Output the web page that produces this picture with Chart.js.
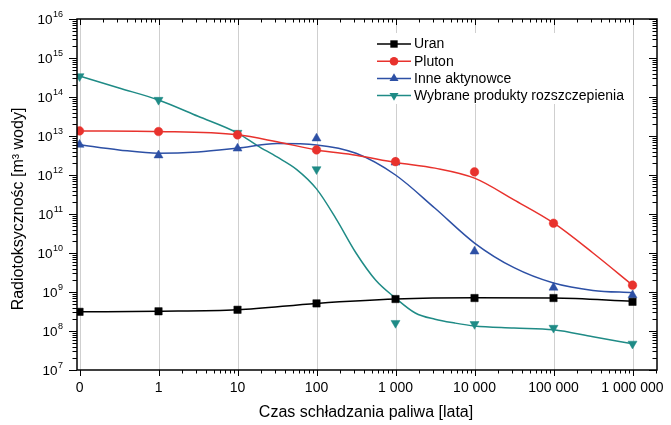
<!DOCTYPE html>
<html><head><meta charset="utf-8">
<script src="https://cdn.jsdelivr.net/npm/chart.js@4"></script>
<style>html,body{margin:0;padding:0;background:#fff}#wrap{width:671px;height:425px;position:relative}</style>
</head><body><div id="wrap"><canvas id="c" width="671" height="425"></canvas></div>
<script>
// ---- data ----
const categories = ['0', '1', '10', '100', '1 000', '10 000', '100 000', '1 000 000'];
const yExponents = [7, 8, 9, 10, 11, 12, 13, 14, 15, 16];
const seriesNames = ['Uran', 'Pluton', 'Inne aktynowce', 'Wybrane produkty rozszczepienia'];
const xTitle = 'Czas schładzania paliwa [lata]';
const yTitle = 'Radiotoksycznośc [m³ wody]';

// measured points (markers), one per category
const uranPts   = [3.1e8, 3.2e8, 3.5e8, 5.1e8, 6.6e8, 7.0e8, 7.0e8, 5.6e8];
const plutonPts = [1.35e13, 1.3e13, 1.07e13, 4.4e12, 2.2e12, 1.2e12, 5.8e10, 1.5e9];
const inneAktPts = [6.0e12, 3.2e12, 4.8e12, 8.7e12, 2.1e12, 1.1e10, 1.3e9, 8.3e8];
const produktyPts = [3.4e14, 8.4e13, 1.2e13, 1.4e12, 1.6e8, 1.5e8, 1.2e8, 4.7e7];

// fitted curves (x = category index)
const uranCurveX = [0, 1, 2, 3, 4, 5, 6, 7];
const uranCurveY = [3.1e8, 3.2e8, 3.5e8, 5.1e8, 6.6e8, 7.1e8, 7.0e8, 5.8e8];
const plutonCurveX = [0, 1, 2, 2.5, 3, 3.5, 4, 4.5, 5, 5.5, 6, 6.5, 7];
const plutonCurveY = [1.35e13, 1.3e13, 1.07e13, 7.1e12, 4.4e12, 3.2e12, 2.1e12, 1.5e12, 8.3e11, 2.3e11, 5.9e10, 1.0e10, 1.5e9];
const inneAktCurveX = [0, 0.5, 1, 1.5, 2, 2.5, 3, 3.5, 4, 4.5, 5, 5.5, 6, 6.5, 7];
const inneAktCurveY = [6.0e12, 4.4e12, 3.6e12, 3.9e12, 4.9e12, 6.4e12, 5.9e12, 3.6e12, 1.0e12, 1.4e11, 1.8e10, 4.2e9, 1.7e9, 1.1e9, 9.6e8];
const produktyCurveX = [0, 0.5, 1, 1.5, 2, 2.25, 2.5, 2.75, 3, 3.25, 3.5, 3.75, 4, 4.25, 4.5, 4.75, 5, 5.5, 6, 6.5, 7];
const produktyCurveY = [3.45e14, 1.7e14, 8.4e13, 3.2e13, 1.19e13, 5.7e12, 2.9e12, 1.38e12, 4.4e11, 7.4e10, 1.0e10, 2.0e9, 7.0e8, 2.9e8, 2.0e8, 1.6e8, 1.35e8, 1.2e8, 1.07e8, 7.1e7, 4.7e7];

// ---- styles ----
const colors = ['#000000', '#e8322d', '#2d50a5', '#1f8b86'];
const pStyles = [
  {pointStyle: 'rect', radius: 5.2, rotation: 0},
  {pointStyle: 'circle', radius: 4.3, rotation: 0},
  {pointStyle: 'triangle', radius: 5.2, rotation: 0},
  {pointStyle: 'triangle', radius: 5.2, rotation: 180}
];
const FONT = '"Liberation Sans", Arial, sans-serif';

const toXY = (xs, ys) => xs.map((x, i) => ({x: x, y: ys[i]}));
const ptsXY = vals => vals.map((v, i) => ({x: i, y: v}));

const curves = [[uranCurveX, uranCurveY], [plutonCurveX, plutonCurveY], [inneAktCurveX, inneAktCurveY], [produktyCurveX, produktyCurveY]];
const points = [uranPts, plutonPts, inneAktPts, produktyPts];

const datasets = [];
points.forEach((p, s) => {
  datasets.push({
    label: seriesNames[s] + ' pts', data: ptsXY(p), showLine: false,
    pointStyle: pStyles[s].pointStyle, pointRadius: pStyles[s].radius, pointRotation: pStyles[s].rotation,
    backgroundColor: colors[s], borderColor: colors[s], pointBorderWidth: 0.5, order: 1
  });
});
curves.forEach((c, s) => {
  datasets.push({
    label: seriesNames[s], data: toXY(c[0], c[1]), borderColor: colors[s], borderWidth: 1.5,
    pointRadius: 0, cubicInterpolationMode: 'monotone', fill: false, order: 2
  });
});

const decor = {
  id: 'decor',
  beforeDatasetsDraw(chart) {
    const {ctx, chartArea: a, scales: {x}} = chart;
    ctx.save();
    ctx.strokeStyle = '#cfcfcf'; ctx.lineWidth = 1;
    categories.forEach((c, i) => {
      const px = Math.round(x.getPixelForValue(i)) + 0.5;
      ctx.beginPath(); ctx.moveTo(px, a.top); ctx.lineTo(px, a.bottom); ctx.stroke();
    });
    ctx.restore();
  },
  afterDatasetsDraw(chart) {
    const ctx = chart.ctx;
    ctx.save();
    ctx.fillStyle = '#ffffff';
    ctx.fillRect(370, 33, 262, 71);
    ctx.font = '14px ' + FONT;
    ctx.textBaseline = 'middle'; ctx.textAlign = 'left';
    seriesNames.forEach((n, s) => {
      const yy = 44 + s * 17.2;
      ctx.strokeStyle = colors[s]; ctx.lineWidth = 1.5;
      ctx.beginPath(); ctx.moveTo(377, yy); ctx.lineTo(411, yy); ctx.stroke();
      ctx.fillStyle = colors[s];
      Chart.helpers.drawPoint(ctx, {pointStyle: pStyles[s].pointStyle, radius: pStyles[s].radius, rotation: pStyles[s].rotation, borderWidth: 0}, 394, yy);
      ctx.fillStyle = '#000';
      ctx.fillText(n, 414, yy + 0.5);
    });
    ctx.restore();
  },
  afterDraw(chart) {
    const {ctx, chartArea: a, scales: {x, y}} = chart;
    ctx.save();
    ctx.strokeStyle = '#000'; ctx.lineWidth = 1.5;
    ctx.strokeRect(a.left, a.top, a.right - a.left, a.bottom - a.top);
    ctx.lineWidth = 1;
    // y ticks
    yExponents.forEach(e => {
      const py = Math.round(y.getPixelForValue(Math.pow(10, e))) + 0.5;
      ctx.beginPath();
      ctx.moveTo(a.left - 8, py); ctx.lineTo(a.left, py);
      ctx.moveTo(a.right - 8, py); ctx.lineTo(a.right, py);
      ctx.stroke();
      if (e < yExponents[yExponents.length - 1]) {
        for (let k = 2; k <= 9; k++) {
          const pm = Math.round(y.getPixelForValue(k * Math.pow(10, e))) + 0.5;
          ctx.beginPath();
          ctx.moveTo(a.left - 4.5, pm); ctx.lineTo(a.left, pm);
          ctx.moveTo(a.right - 4.5, pm); ctx.lineTo(a.right, pm);
          ctx.stroke();
        }
      }
      // label 10^e
      const ex = String(e);
      ctx.fillStyle = '#000';
      ctx.font = '9px ' + FONT;
      const ew = ctx.measureText(ex).width;
      ctx.textAlign = 'left'; ctx.textBaseline = 'middle';
      ctx.fillText(ex, 63 - ew, py - 5);
      ctx.font = '13.5px ' + FONT;
      ctx.textAlign = 'right';
      ctx.fillText('10', 63 - ew - 0.5, py + 1);
    });
    // x ticks
    categories.forEach((c, i) => {
      const px = Math.round(x.getPixelForValue(i)) + 0.5;
      ctx.beginPath();
      ctx.moveTo(px, a.bottom); ctx.lineTo(px, a.bottom + 6);
      ctx.moveTo(px, a.top); ctx.lineTo(px, a.top + 6);
      ctx.stroke();
      for (let k = 2; k <= 9; k++) {
        const v = i + Math.log10(k);
        if (v > x.max) break;
        const pm = Math.round(x.getPixelForValue(v)) + 0.5;
        ctx.beginPath();
        if (i > 0) { ctx.moveTo(pm, a.bottom); ctx.lineTo(pm, a.bottom + 3.5); }
        ctx.moveTo(pm, a.top); ctx.lineTo(pm, a.top + 3.5);
        ctx.stroke();
      }
      ctx.font = '14px ' + FONT;
      ctx.textAlign = 'center'; ctx.textBaseline = 'middle';
      ctx.fillText(c, x.getPixelForValue(i), 388);
    });
    // titles
    ctx.font = '16px ' + FONT;
    ctx.textAlign = 'center'; ctx.textBaseline = 'middle';
    ctx.fillText(xTitle, 366, 413);
    ctx.translate(19, 209);
    ctx.rotate(-Math.PI / 2);
    ctx.fillText(yTitle, 0, 0);
    ctx.restore();
  }
};

new Chart(document.getElementById('c'), {
  type: 'line',
  data: {datasets: datasets},
  options: {
    responsive: false, animation: false, devicePixelRatio: 1,
    layout: {padding: {left: 77, right: 14, top: 19, bottom: 55}},
    plugins: {legend: {display: false}, tooltip: {enabled: false}},
    scales: {
      x: {type: 'linear', min: -0.032, max: 7.31, display: false},
      y: {type: 'logarithmic', min: 1e7, max: 1e16, display: false}
    }
  },
  plugins: [decor]
});
</script>
</body></html>
